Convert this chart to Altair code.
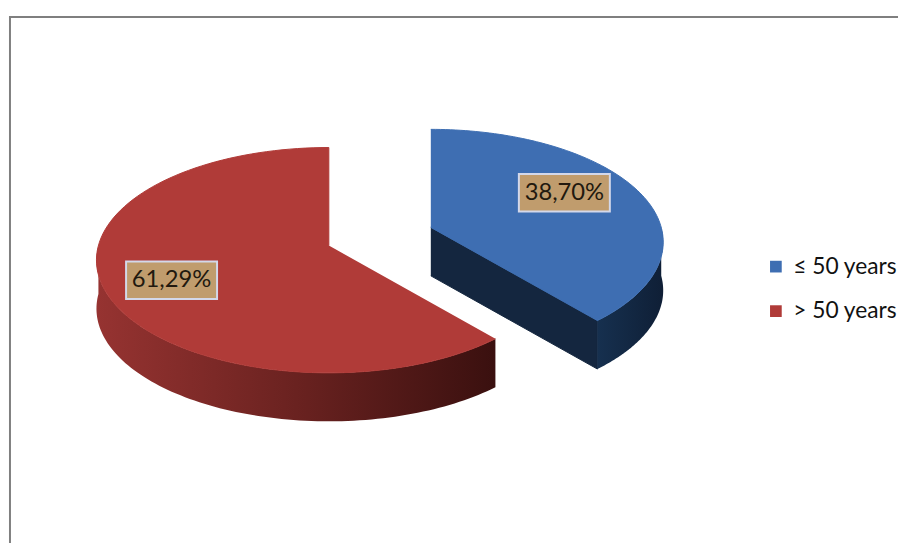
import altair as alt
import pandas as pd

# ---- data -------------------------------------------------------------
categories = ["≤ 50 years", "> 50 years"]
shares = [38.70, 61.29]

# ---- style ------------------------------------------------------------
top_colors = ["#3E6EB2", "#B03B38"]
face_colors = ["#14263F", "#4A1614"]
wall_stops = [["#16304F", "#0F1F36"], ["#963331", "#6A2220", "#3A100F"]]

# pie geometry (page pixels) - layout constants
CX, CY = 383.0, 236.0      # common centre
R, RY, P = 233.0, 112.0, 0.13  # radii and perspective factor
E = 0.236                  # explosion (fraction of radius)
D = 49.0                   # thickness
LX, LY = 0.673, 0.9        # label placement
LDX = -12                  # label horizontal nudge (px)

W, H = 899, 538

slices = pd.DataFrame({"cat": categories, "val": shares})

xs = alt.Scale(domain=[8, 8 + W], range=[0, W], nice=False, zero=False)
ys = alt.Scale(domain=[8, 8 + H], range=[0, H], nice=False, zero=False)
X = alt.X("px:Q", scale=xs, axis=None)
Y = alt.Y("py:Q", scale=ys, axis=None)
ORD = alt.Order("s:Q")


def rim_x(t):
    return f"(datum.pcx + {R}*sin({t})/(1 + {P}*cos({t})))"


def rim_y(t):
    return f"(datum.pcy - {RY}*cos({t})/(1 + {P}*cos({t})))"


base = (
    alt.Chart(slices)
    .transform_window(cumv="sum(val)", frame=[None, 0])
    .transform_joinaggregate(total="sum(val)")
    .transform_calculate(
        a0="2*PI*(datum.cumv - datum.val)/datum.total",
        a1="2*PI*datum.cumv/datum.total",
        mid="(datum.a0 + datum.a1)/2",
        pcx=f"{CX} + {E}*{R}*sin(datum.mid)",
        pcy=f"{CY} - {E}*{RY}*cos(datum.mid)",
    )
)

color_scale = alt.Scale(domain=categories, range=top_colors)
legend = alt.Legend(
    title=None, orient="none", legendX=764, legendY=247,
    symbolType="square", symbolSize=140, symbolStrokeWidth=0,
    labelFont="Lato", labelFontSize=23, labelColor="#111111",
    labelOffset=6, rowPadding=21,
)

# top faces
top = (
    base.transform_calculate(s="sequence(0, 102)")
    .transform_flatten(["s"])
    .transform_calculate(
        t="datum.a0 + (datum.a1 - datum.a0)*min(datum.s, 100)/100",
        px=f"datum.s > 100 ? datum.pcx : {rim_x('datum.t')}",
        py=f"datum.s > 100 ? datum.pcy : {rim_y('datum.t')}",
    )
    .mark_line(strokeWidth=1, strokeJoin="round")
    .encode(
        x=X, y=Y, order=ORD,
        fill=alt.Fill("cat:N", scale=color_scale, legend=legend),
        stroke=alt.Stroke("cat:N", scale=color_scale, legend=None),
    )
)

# outer walls (front half only)
walls_base = (
    base.transform_calculate(w0="max(datum.a0, PI/2)", w1="min(datum.a1, 3*PI/2)")
    .transform_filter("datum.w1 > datum.w0")
    .transform_calculate(s="sequence(0, 202)")
    .transform_flatten(["s"])
    .transform_calculate(
        t="datum.s <= 100 ? datum.w0 + (datum.w1 - datum.w0)*datum.s/100 : "
          "datum.w1 - (datum.w1 - datum.w0)*(datum.s - 101)/100",
        px=rim_x("datum.t"),
        py=f"{rim_y('datum.t')} + (datum.s > 100 ? {D} : 0)",
    )
)

# visible radial cut faces
faces_base = (
    base.transform_calculate(
        fa="sin(datum.a1) > 0.000001 ? datum.a1 : (sin(datum.a0) < -0.000001 ? datum.a0 : null)"
    )
    .transform_filter("datum.fa != null")
    .transform_calculate(s="sequence(0, 4)")
    .transform_flatten(["s"])
    .transform_calculate(
        edge="datum.s == 1 || datum.s == 2",
        px=f"datum.edge ? {rim_x('datum.fa')} : datum.pcx",
        py=f"(datum.edge ? {rim_y('datum.fa')} : datum.pcy) + (datum.s >= 2 ? {D} : 0)",
    )
)

layers = []
for i, cat in enumerate(categories):
    layers.append(
        faces_base.transform_filter(alt.datum.cat == cat)
        .mark_line(fill=face_colors[i], stroke=face_colors[i], strokeWidth=1)
        .encode(x=X, y=Y, order=ORD)
    )
for i, cat in enumerate(categories):
    stops = wall_stops[i]
    grad = alt.LinearGradient(
        gradient="linear", x1=0, x2=1, y1=0, y2=0,
        stops=[alt.GradientStop(color=c, offset=k / (len(stops) - 1)) for k, c in enumerate(stops)],
    )
    layers.append(
        walls_base.transform_filter(alt.datum.cat == cat)
        .mark_line(fill=grad, strokeWidth=0)
        .encode(x=X, y=Y, order=ORD)
    )
layers.append(top)

labels_base = base.transform_calculate(
    lx=f"datum.pcx + {LX}*{R}*sin(datum.mid)",
    ly=f"datum.pcy - {LY}*{RY}*cos(datum.mid)",
    label="replace(format(datum.val, '.2f'), '.', ',') + '%'",
)
LXE = alt.X("lx:Q", scale=xs, axis=None)
LYE = alt.Y("ly:Q", scale=ys, axis=None)
boxes = labels_base.mark_rect(
    width=92, height=38, fill="#C09C6D", stroke="#D3D8EA", strokeWidth=2, xOffset=LDX
).encode(x=LXE, y=LYE)
texts = labels_base.mark_text(font="Lato", fontSize=24, color="#22190F", dx=LDX).encode(
    x=LXE, y=LYE, text="label:N"
)
layers += [boxes, texts]

frame_df = pd.DataFrame({"f": [0]})
frame_v = alt.Chart(frame_df).mark_rule(color="#7F7F7F", strokeWidth=2).encode(
    x=alt.value(1), y=alt.value(6), y2=alt.value(H)
)
frame_h = alt.Chart(frame_df).mark_rule(color="#7F7F7F", strokeWidth=2).encode(
    x=alt.value(0), x2=alt.value(W), y=alt.value(6)
)

chart = (
    alt.layer(frame_v, frame_h, *layers)
    .properties(width=W, height=H, padding=0)
    .configure_view(stroke=None)
)

chart.save("out.html", embed_options={"renderer": "svg", "actions": False})
